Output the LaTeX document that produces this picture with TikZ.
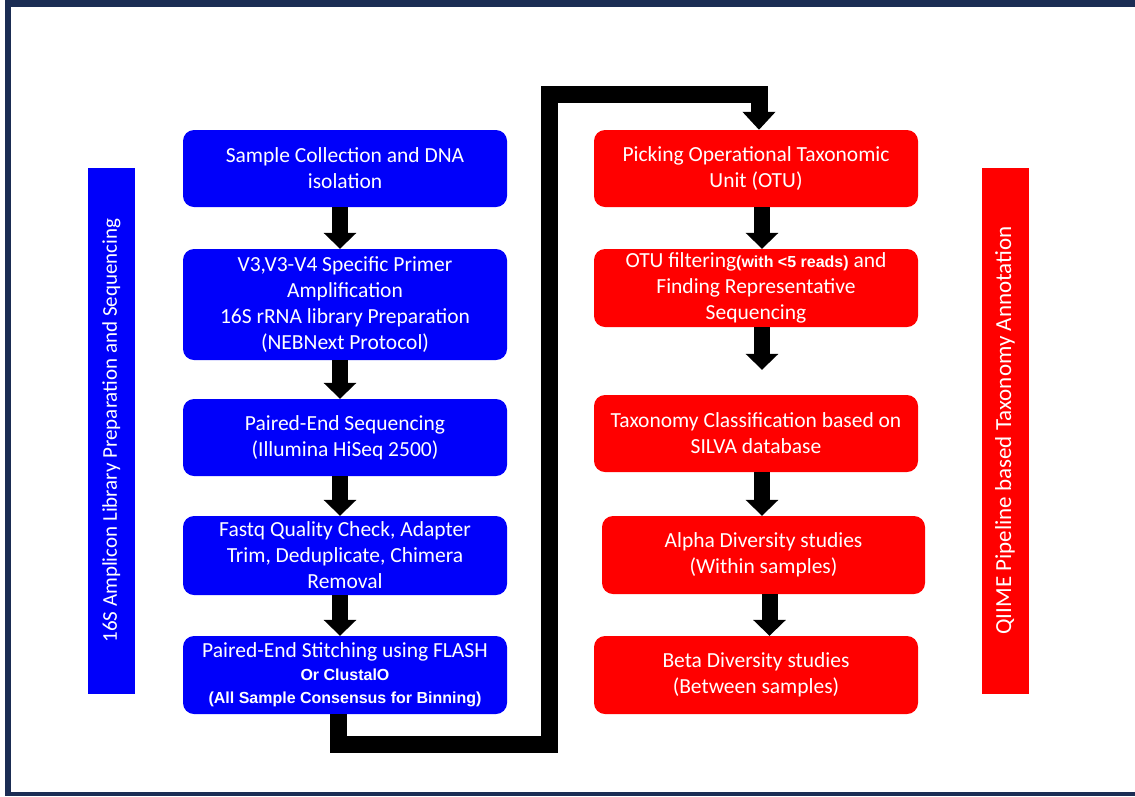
\documentclass[tikz,border=0pt]{standalone}
\usepackage{fontspec}
\setmainfont{Carlito}
\newfontfamily\arialfont{Liberation Sans}
\usetikzlibrary{arrows.meta}

\definecolor{boxblue}{RGB}{0,0,250}
\definecolor{boxred}{RGB}{255,0,0}
\definecolor{frame}{RGB}{27,45,84}

\newcommand{\boldnote}[1]{{\arialfont\bfseries\fontsize{16}{22}\selectfont #1}}

\begin{document}
\begin{tikzpicture}[x=1pt, y=-1pt,
  box/.style={rounded corners=11pt, text=white, align=center, inner sep=0pt,
    minimum width=324pt, minimum height=78pt, font=\fontsize{21.5}{26}\selectfont},
  bluebox/.style={box, fill=boxblue},
  redbox/.style={box, fill=boxred},
  sidebar/.style={rotate=90, minimum width=526pt, minimum height=47pt, inner sep=0pt,
    text=white, font=\fontsize{21}{24}\selectfont},
  flow/.style={line width=16pt, -{Triangle[width=32pt,length=16pt]}},
  bigflow/.style={line width=17pt, line join=miter, -{Triangle[width=32pt,length=18pt]}}]

  \useasboundingbox (0,0) rectangle (1135,796);

  % frame
  \fill[frame] (5,0) rectangle (1135,7);
  \fill[frame] (5,0) rectangle (11,796);
  \fill[frame] (5,792) rectangle (1135,796);

  % side bars
  \node[sidebar, fill=boxblue] (lbar) at (111.5,430.5) {16S Amplicon Library Preparation and Sequencing};
  \node[sidebar, fill=boxred, font=\fontsize{23}{24}\selectfont] (rbar) at (1005,430.5) {QIIME Pipeline based Taxonomy Annotation};

  % left column
  \node[bluebox, minimum height=77pt] (b1) at (345,168.5) {Sample Collection and DNA\\isolation};
  \node[bluebox, minimum height=111pt] (b2) at (345,304.5) {V3,V3-V4 Specific Primer\\Amplification\\16S rRNA library Preparation\\(NEBNext Protocol)};
  \node[bluebox, minimum height=77pt] (b3) at (345,437.5) {Paired-End Sequencing\\(Illumina HiSeq 2500)};
  \node[bluebox, minimum height=79pt] (b4) at (345,555.5) {Fastq Quality Check, Adapter\\Trim, Deduplicate, Chimera\\Removal};
  \node[bluebox] (b5) at (345,675) {Paired-End Stitching using FLASH\\[-3pt]
    \boldnote{Or ClustalO}\\[-3pt]
    \boldnote{(All Sample Consensus for Binning)}};

  % right column
  \node[redbox, minimum height=77pt] (r1) at (756,168.5) {Picking Operational Taxonomic\\Unit (OTU)};
  \node[redbox] (r2) at (756,288) {OTU filtering\boldnote{(with <5 reads)} and\\Finding Representative\\Sequencing};
  \node[redbox, minimum height=77pt] (r3) at (756,433.5) {Taxonomy Classification based on\\SILVA database};
  \node[redbox, minimum width=323pt] (r4) at (763.5,555) {Alpha Diversity studies\\(Within samples)};
  \node[redbox] (r5) at (756,675) {Beta Diversity studies\\(Between samples)};

  % arrows
  \draw[flow] ([xshift=-5pt]b1.south) -- ([xshift=-5pt]b1.south |- b2.north);
  \draw[flow] ([xshift=-5pt]b2.south) -- ([xshift=-5pt]b2.south |- b3.north);
  \draw[flow] ([xshift=-5pt]b3.south) -- ([xshift=-5pt]b3.south |- b4.north);
  \draw[flow] ([xshift=-5pt]b4.south) -- ([xshift=-5pt]b4.south |- b5.north);
  \draw[flow] ([xshift=6pt]r1.south) -- ([xshift=6pt]r1.south |- r2.north);
  \draw[flow, shorten >=25pt] ([xshift=6pt]r2.south) -- ([xshift=6pt]r2.south |- r3.north);
  \draw[flow] ([xshift=6pt]r3.south) -- ([xshift=6pt]r3.south |- r4.north);
  \draw[flow] ([xshift=6pt]r4.south) -- ([xshift=6pt]r4.south |- r5.north);

  \coordinate (low) at (549,744);
  \coordinate (high) at (549,94);
  \draw[bigflow] ([xshift=-7pt]b5.south) |- (low) -- (high) -| ([xshift=3pt]r1.north);

\end{tikzpicture}
\end{document}
